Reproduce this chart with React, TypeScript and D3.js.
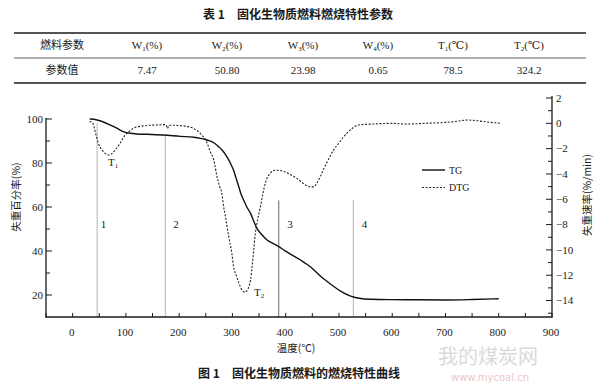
import React from "react";
import * as d3 from "d3";

const tableHeaders = ["燃料参数", "W1(%)", "W2(%)", "W3(%)", "W4(%)", "T1(℃)", "T2(℃)"];
const tableValues = ["参数值", "7.47", "50.80", "23.98", "0.65", "78.5", "324.2"];

const tgData: [number, number][] = [
  [32, 100], [40, 99.9], [51, 99.2], [60, 98.4], [70, 97.3], [83, 95.8], [95, 94.3], [108, 93.5],
  [120, 93.2], [139, 93.05], [170, 92.7], [202, 92.1], [227, 91.7], [240, 91.2], [249, 90.7],
  [257, 90.1], [265, 89.2], [273, 87.6], [280.5, 85.9], [287, 83.8], [293, 81.4], [298, 79],
  [302, 76.8], [307, 73], [312, 69.2], [316, 66], [321, 63.2], [327, 60], [334, 57.1], [340, 53.5],
  [346, 50.3], [355, 47.5], [365, 45], [376, 43.5], [387, 42], [398, 40.2], [409, 38.6],
  [428, 35.9], [447, 32.7], [465, 28.6], [484, 25], [503, 21.8], [522, 19.5], [541, 18.4],
  [560, 18.05], [578, 17.95], [600, 17.9], [650, 17.85], [700, 17.75], [750, 17.95], [800, 18.3],
];

const dtgData: [number, number][] = [
  [32, 0.15], [36, 0.1], [39, -0.1], [42, -0.6], [45, -1.1], [48, -1.55], [55, -2.1], [62, -2.4],
  [67, -2.5], [72, -2.45], [77, -2.25], [83, -1.95], [89, -1.58], [98, -0.95], [108, -0.58],
  [117, -0.32], [130, -0.22], [145, -0.15], [164, -0.12], [175, -0.1], [178, -0.4], [181, -0.15],
  [202, -0.18], [215, -0.25], [227, -0.4], [236, -0.65], [243, -0.95], [252, -1.5], [258, -2.2],
  [265, -2.9], [271, -4.2], [276, -5.0], [280, -5.5], [283.5, -6.6], [287, -7.4], [293, -8.95],
  [299, -10.3], [302, -11.3], [307, -12.0], [312, -12.6], [317, -13.1], [321, -13.3], [324, -13.35],
  [327.5, -13.2], [331, -12.9], [334, -12.4], [337, -11.3], [340, -10], [343, -8.7], [346, -7.9],
  [352.5, -6.6], [357, -5.6], [362, -4.7], [366, -4.25], [371, -3.95], [376, -3.75], [381, -3.7],
  [388, -3.72], [396, -3.8], [409, -4.05], [421, -4.35], [430, -4.65], [440, -4.95], [448, -5.02],
  [453, -5.0], [458, -4.75], [465, -4.2], [472, -3.55], [481, -2.8], [490, -2.1], [500, -1.55],
  [509, -1.06], [518, -0.65], [525, -0.4], [534, -0.15], [550, -0.08], [566, -0.05], [597, 0],
  [628, -0.06], [660, 0], [691, 0.05], [716, 0.13], [741, 0.26], [760, 0.2], [779, 0.1], [804, 0.0],
];

const stageTemps = [46, 174, 387, 527];
const stageTops = [98, 92, 63, 63];
const stageLabels = ["1", "2", "3", "4"];
const stageLabelTemps = [58, 194, 408, 548];

const xMajor = [0, 100, 200, 300, 400, 500, 600, 700, 800, 900];
const leftMajor = [20, 40, 60, 80, 100];
const rightMajor = [2, 0, -2, -4, -6, -8, -10, -12, -14];

const serif = "'Liberation Serif', 'DejaVu Serif', serif";
const cjk = "'Noto Sans CJK SC', sans-serif";

function Sub({ label }: { label: string }) {
  const m = label.match(/^([A-Z])(\d)(.*)$/);
  if (!m) return <>{label}</>;
  return (
    <>
      <tspan>{m[1]}</tspan>
      <tspan fontSize={7} dy={2}>{m[2]}</tspan>
      <tspan dy={-2}>{m[3]}</tspan>
    </>
  );
}

export default function App() {
  const x = d3.scaleLinear().domain([-50, 900]).range([46, 552]);
  const yL = d3.scaleLinear().domain([10, 100]).range([317, 119]);
  const yR = d3.scaleLinear().domain([-15.3, 2]).range([317, 98]);

  const tgLine = d3.line<[number, number]>().x((d) => x(d[0])).y((d) => yL(d[1])).curve(d3.curveMonotoneX);
  const dtgLine = d3.line<[number, number]>().x((d) => x(d[0])).y((d) => yR(d[1])).curve(d3.curveMonotoneX);

  const xMinor = d3.range(-50, 901, 50);
  const leftMinor = d3.range(30, 100, 20);
  const rightMinor = d3.range(1, -16, -2);

  const colX = [62, 147, 227, 303, 378, 453, 529];
  const ink = "#1a1a1a";

  return (
    <svg width={600} height={384} style={{ position: "absolute", left: 0, top: 0, background: "#fff" }}>
      {/* table */}
      <text x={298} y={19} textAnchor="middle" fontFamily={cjk} fontWeight="bold" fontSize={12} fill={ink}>
        表 1　固化生物质燃料燃烧特性参数
      </text>
      <line x1={14} x2={586} y1={33} y2={33} stroke={ink} strokeWidth={1.5} />
      <line x1={14} x2={586} y1={58} y2={58} stroke={ink} strokeWidth={0.7} />
      <line x1={14} x2={586} y1={83} y2={83} stroke={ink} strokeWidth={1.5} />
      {tableHeaders.map((h, i) => (
        <text key={"h" + i} x={colX[i]} y={49} textAnchor="middle" fontSize={11}
          fontFamily={i === 0 ? cjk : serif} fill={ink}>
          {i === 0 ? h : <Sub label={h} />}
        </text>
      ))}
      {tableValues.map((v, i) => (
        <text key={"v" + i} x={colX[i]} y={74} textAnchor="middle" fontSize={11}
          fontFamily={i === 0 ? cjk : serif} fill={ink}>
          {v}
        </text>
      ))}

      {/* watermark (kept below the tick labels) */}
      <text x={488} y={364} textAnchor="middle" fontFamily={cjk} fontSize={20} fill="#d2d2d2" opacity={0.8}>我的煤炭网</text>
      <text x={490} y={381} textAnchor="middle" fontFamily="'DejaVu Sans', sans-serif" fontSize={10} fill="#e8b8b8" opacity={0.8}>www.mycoal.cn</text>

      {/* stage lines */}
      {stageTemps.map((t, i) => (
        <line key={"s" + i} x1={x(t)} x2={x(t)} y1={yL(stageTops[i])} y2={317}
          stroke="#444" strokeWidth={0.8} strokeDasharray={i === 2 ? "none" : "1,1"} />
      ))}
      {stageLabels.map((s, i) => (
        <text key={"sl" + i} x={x(stageLabelTemps[i])} y={yL(52)} dy="0.35em" textAnchor="middle"
          fontFamily={serif} fontSize={11} fill={ink}>{s}</text>
      ))}

      {/* curves */}
      <path d={dtgLine(dtgData) || ""} fill="none" stroke="#222" strokeWidth={1.1} strokeDasharray="2,1.6" />
      <path d={tgLine(tgData) || ""} fill="none" stroke="#111" strokeWidth={1.4} />

      {/* T labels */}
      <text x={x(76)} y={yL(80.5)} dy="0.35em" textAnchor="middle" fontFamily={serif} fontSize={11} fill={ink}>
        T<tspan fontSize={7} dy={2}>1</tspan>
      </text>
      <text x={x(350)} y={yL(21.4)} dy="0.35em" textAnchor="middle" fontFamily={serif} fontSize={11} fill={ink}>
        T<tspan fontSize={7} dy={2}>2</tspan>
      </text>

      {/* legend */}
      <line x1={422} x2={445} y1={170} y2={170} stroke="#111" strokeWidth={1.4} />
      <text x={449} y={170} dy="0.35em" fontFamily={serif} fontSize={10} fill={ink}>TG</text>
      <line x1={422} x2={445} y1={187.5} y2={187.5} stroke="#222" strokeWidth={1.1} strokeDasharray="2,1.6" />
      <text x={449} y={187.5} dy="0.35em" fontFamily={serif} fontSize={10} fill={ink}>DTG</text>

      {/* axes */}
      <line x1={46} x2={46} y1={118} y2={317.5} stroke={ink} strokeWidth={1.3} />
      <line x1={552} x2={552} y1={96} y2={317.5} stroke={ink} strokeWidth={1.3} />
      <line x1={45.5} x2={552.5} y1={317} y2={317} stroke={ink} strokeWidth={1.5} />

      {xMinor.map((t) => (
        <line key={"xt" + t} x1={x(t)} x2={x(t)} y1={317} y2={313} stroke={ink} strokeWidth={1} />
      ))}
      {xMajor.map((t) => (
        <text key={"xl" + t} x={x(t) - 1} y={332} dy="0.35em" textAnchor="middle" fontFamily={serif} fontSize={11} fill={ink}>{t}</text>
      ))}

      {leftMajor.map((v) => (
        <g key={"lm" + v}>
          <line x1={46} x2={52} y1={yL(v)} y2={yL(v)} stroke={ink} strokeWidth={1} />
          <text x={43} y={yL(v)} dy="0.35em" textAnchor="end" fontFamily={serif} fontSize={11} fill={ink}>{v}</text>
        </g>
      ))}
      {leftMinor.map((v) => (
        <line key={"ln" + v} x1={46} x2={50} y1={yL(v)} y2={yL(v)} stroke={ink} strokeWidth={1} />
      ))}

      {rightMajor.map((v) => (
        <g key={"rm" + v}>
          <line x1={546} x2={552} y1={yR(v)} y2={yR(v)} stroke={ink} strokeWidth={1} />
          <text x={556} y={yR(v)} dy="0.35em" textAnchor="start" fontFamily={serif} fontSize={11} fill={ink}>
            {v < 0 ? "−" + Math.abs(v) : String(v)}
          </text>
        </g>
      ))}
      {rightMinor.map((v) => (
        <line key={"rn" + v} x1={548} x2={552} y1={yR(v)} y2={yR(v)} stroke={ink} strokeWidth={1} />
      ))}

      {/* axis titles */}
      <text transform="translate(16,197) rotate(-90)" textAnchor="middle" dy="0.35em" fontFamily={cjk} fontSize={10.5} fill={ink}>
        失重百分率(%)
      </text>
      <text transform="translate(587,195) rotate(-90)" textAnchor="middle" dy="0.35em" fontFamily={cjk} fontSize={10.5} fill={ink}>
        失重速率(%/min)
      </text>
      <text x={296} y={348} textAnchor="middle" dy="0.35em" fontFamily={cjk} fontSize={10.5} fill={ink}>温度(℃)</text>

      <text x={299} y={378} textAnchor="middle" fontFamily={cjk} fontWeight="bold" fontSize={12} fill={ink}>
        图 1　固化生物质燃料的燃烧特性曲线
      </text>
    </svg>
  );
}
